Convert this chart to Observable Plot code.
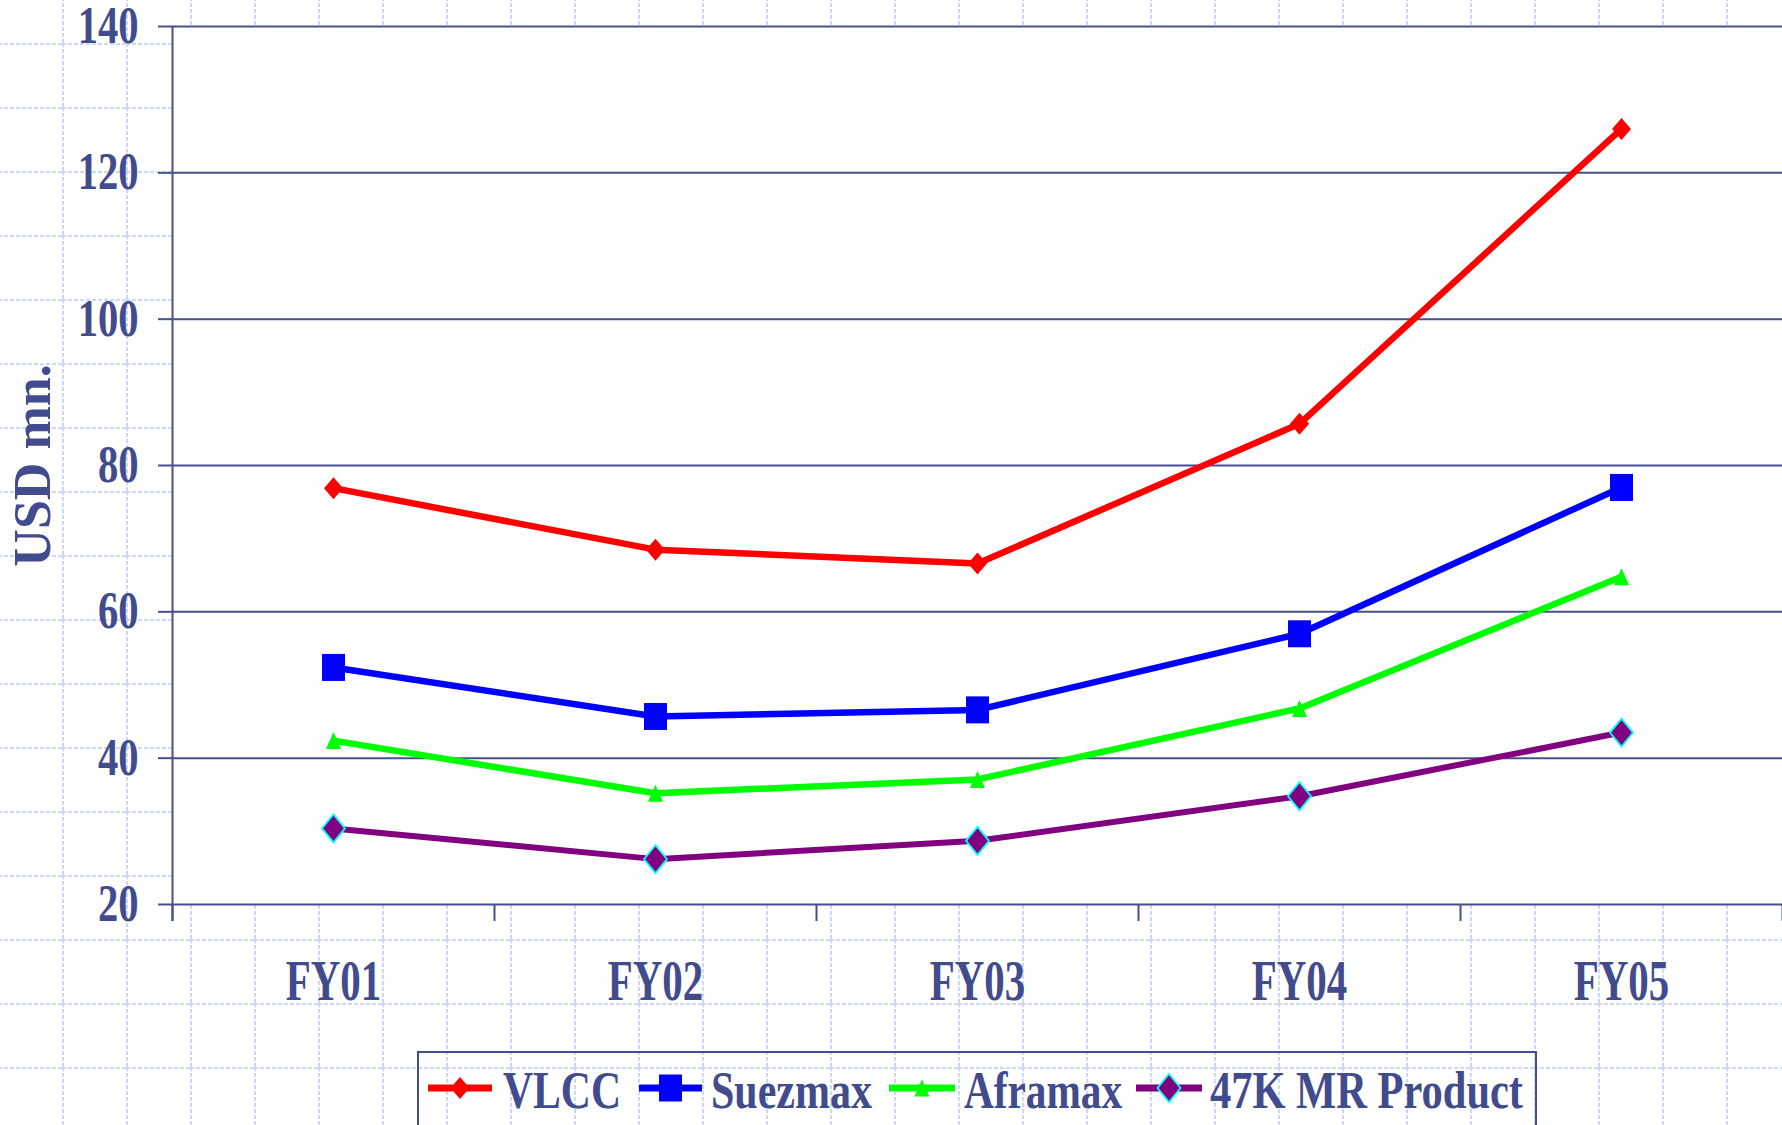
<!DOCTYPE html>
<html><head><meta charset="utf-8">
<script src="https://cdn.jsdelivr.net/npm/d3@7"></script>
<script src="https://cdn.jsdelivr.net/npm/@observablehq/plot@0.6"></script>
<style>
html,body{margin:0;padding:0;width:1782px;height:1125px;overflow:hidden;background-color:#fff;}
#chart{position:absolute;left:0;top:0;}
#legend{position:absolute;left:417px;top:1051px;width:1116px;height:120px;border:2px solid #434d8e;}
#legend svg{display:block;}
</style></head><body>
<div id="chart"></div><div id="legend"></div>
<script>
// ---- data ----
const categories = ["FY01", "FY02", "FY03", "FY04", "FY05"];
const seriesNames = ["VLCC", "Suezmax", "Aframax", "47K MR Product"];
const vlcc = [76.9, 68.5, 66.6, 85.7, 126.0];
const suezmax = [52.4, 45.7, 46.6, 57.0, 77.0];
const aframax = [42.4, 35.2, 37.1, 46.8, 64.8];
const mrProduct = [30.4, 26.2, 28.7, 34.8, 43.5];
const yTicks = [20, 40, 60, 80, 100, 120, 140];
const yLabel = "USD mn.";

// ---- styling ----
const textColor = "#414b8d";
const gridColor = "#474f8f";
const font = "'Liberation Serif', 'Times New Roman', serif";

// background dashed page grid
const tile = `<svg xmlns='http://www.w3.org/2000/svg' width='64' height='64'><path d='M0 1H64' stroke='#cdd8f6' stroke-width='2' stroke-dasharray='4 2'/><path d='M1 0V64' stroke='#cdd8f6' stroke-width='2' stroke-dasharray='4 2'/></svg>`;
document.body.style.backgroundImage = `url("data:image/svg+xml,${encodeURIComponent(tile)}")`;
document.body.style.backgroundPosition = "62px 43px";

function diamond(w, h) { return {draw(c) { c.moveTo(0, -h / 2); c.lineTo(w / 2, 0); c.lineTo(0, h / 2); c.lineTo(-w / 2, 0); c.closePath(); }}; }
function rect(w, h) { return {draw(c) { c.rect(-w / 2, -h / 2, w, h); }}; }
function tri(w, h) { return {draw(c) { c.moveTo(0, -h / 2); c.lineTo(w / 2, h / 2); c.lineTo(-w / 2, h / 2); c.closePath(); }}; }

const seriesValues = [vlcc, suezmax, aframax, mrProduct];
const styles = [
  {color: "#ff0000", lw: 6.5, symbol: diamond(19, 22), fill: "#ff0000", stroke: "none", sw: 0},
  {color: "#0000ff", lw: 6.5, symbol: rect(23, 27), fill: "#0000ff", stroke: "none", sw: 0},
  {color: "#00ff00", lw: 6.5, symbol: tri(15, 17), fill: "#00ff00", stroke: "none", sw: 0},
  {color: "#800080", lw: 6, symbol: diamond(23, 28), fill: "#800080", stroke: "#00ffff", sw: 1.8}
];

const rows = [];
seriesNames.forEach((s, k) => seriesValues[k].forEach((v, i) => rows.push({series: s, k, i, value: v})));

const boundaries = categories.map((c, i) => i - 0.5).concat([categories.length - 0.5]);
const centers = categories.map((c, i) => i);

const seriesMarks = [];
seriesNames.forEach((s, k) => {
  const d = rows.filter(r => r.k === k);
  const st = styles[k];
  seriesMarks.push(Plot.line(d, {x: "i", y: "value", stroke: st.color, strokeWidth: st.lw, strokeLinejoin: "miter", strokeLinecap: "butt"}));
  seriesMarks.push(Plot.dot(d, {x: "i", y: "value", symbol: st.symbol, r: 5, fill: st.fill, stroke: st.stroke, strokeWidth: st.sw}));
});

const chart = Plot.plot({
  width: 1782,
  height: 1125,
  marginLeft: 172,
  marginRight: 0,
  marginTop: 26,
  marginBottom: 221,
  style: {fontFamily: font, fontWeight: "bold", color: textColor, background: "transparent", overflow: "visible"},
  x: {type: "linear", domain: [-0.5, categories.length - 0.5]},
  y: {type: "linear", domain: [20, 140]},
  marks: [
    Plot.frame({fill: "white", stroke: null}),
    Plot.ruleY(yTicks, {stroke: gridColor, strokeWidth: 2}),
    Plot.axisY({ticks: yTicks, tickSize: 14, tickPadding: 20, fontSize: 52, strokeWidth: 2, stroke: gridColor, label: null}),
    Plot.axisX({ticks: boundaries, tickSize: 17, tickFormat: () => "", strokeWidth: 2, stroke: gridColor, label: null}),
    Plot.axisX({ticks: centers, tickSize: 0, tickPadding: 56, tickFormat: i => categories[i], fontSize: 56, label: null}),
    Plot.ruleX([-0.5], {y1: 140, y2: 20, insetBottom: -17, stroke: gridColor, strokeWidth: 2}),
    ...seriesMarks,
    Plot.text([yLabel], {frameAnchor: "left", textAnchor: "middle", dx: -139, rotate: -90, fontSize: 52, fill: textColor})
  ]
});
document.getElementById("chart").appendChild(chart);

function squeeze(sel, ratio) {
  sel.each(function() {
    const L = this.getComputedTextLength();
    this.setAttribute("textLength", L * ratio);
    this.setAttribute("lengthAdjust", "spacingAndGlyphs");
  });
}
const svg = d3.select(chart);
squeeze(svg.selectAll('g[aria-label="y-axis tick label"] text'), 0.78);
squeeze(svg.selectAll('g[aria-label="x-axis tick label"] text'), 0.73);

// ---- legend ----
const lg = d3.select("#legend").append("svg").attr("width", 1116).attr("height", 72)
  .style("font-family", font).style("font-weight", "bold");
const layout = [
  {x0: 9, x1: 73, tx: 84, tw: 118},
  {x0: 220, x1: 283, tx: 292, tw: 161},
  {x0: 470, x1: 536, tx: 545, tw: 158},
  {x0: 717, x1: 783, tx: 791, tw: 313}
];
seriesNames.forEach((s, k) => {
  const L = layout[k], st = styles[k];
  lg.append("line").attr("x1", L.x0).attr("x2", L.x1).attr("y1", 35).attr("y2", 35)
    .attr("stroke", st.color).attr("stroke-width", 7);
  lg.append("path").attr("d", d3.symbol().type(st.symbol)())
    .attr("transform", `translate(${(L.x0 + L.x1) / 2},35)`)
    .attr("fill", st.fill).attr("stroke", st.stroke).attr("stroke-width", st.sw);
  lg.append("text").attr("x", L.tx).attr("y", 55).attr("font-size", 53).attr("fill", textColor)
    .attr("textLength", L.tw).attr("lengthAdjust", "spacingAndGlyphs").text(s);
});
</script>
</body></html>
